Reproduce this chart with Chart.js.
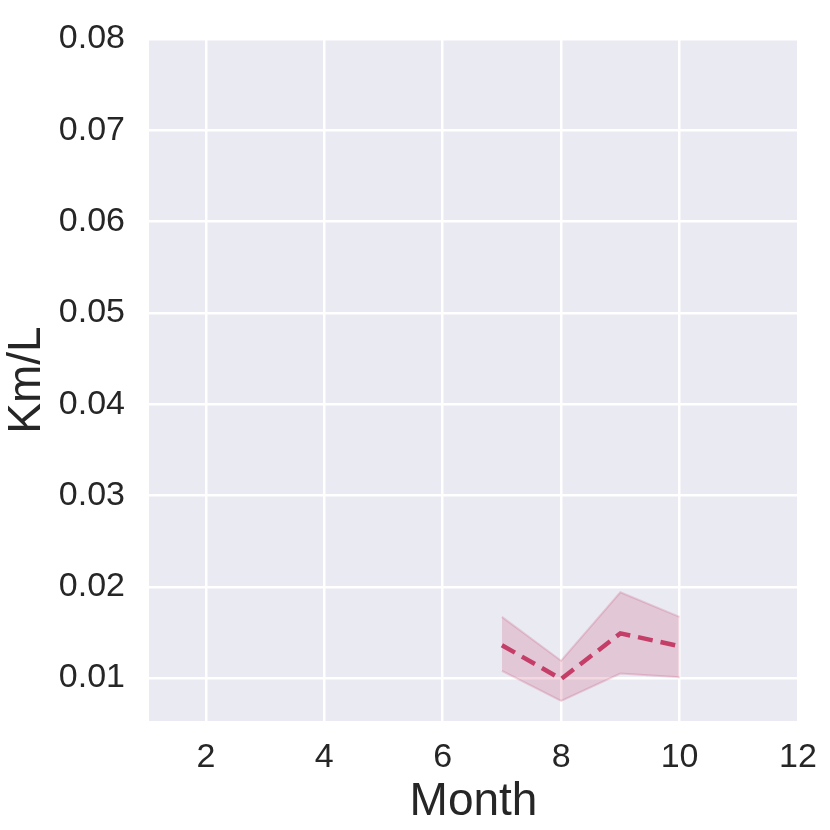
<!DOCTYPE html>
<html>
<head>
<meta charset="utf-8">
<script src="https://cdn.jsdelivr.net/npm/chart.js@4/dist/chart.umd.min.js"></script>
<style>
  html, body { margin: 0; padding: 0; background: #fff; }
  #wrap { width: 830px; height: 830px; }
</style>
</head>
<body>
<div id="wrap"><canvas id="chart" width="830" height="830"></canvas></div>
<script>
// data
const months   = [7, 8, 9, 10];
const kmPerL   = [0.0136, 0.0099, 0.0149, 0.0135];
const ciUpper  = [0.0167, 0.0119, 0.0194, 0.0167];
const ciLower  = [0.0108, 0.0075, 0.0105, 0.0101];
const xTicks   = [2, 4, 6, 8, 10, 12];
const yTicks   = [0.01, 0.02, 0.03, 0.04, 0.05, 0.06, 0.07, 0.08];

const lineColor = 'rgb(196, 62, 104)';
const pts = arr => months.map((m, i) => ({ x: m, y: arr[i] }));
const FONT = 'Liberation Sans, Arial, sans-serif';

// seaborn-ish plot background
const plotBg = {
  id: 'plotBg',
  beforeDraw(chart) {
    const { ctx, chartArea: a } = chart;
    ctx.save();
    ctx.fillStyle = '#EAEAF2';
    ctx.fillRect(a.left, a.top, a.right - a.left, a.bottom - a.top);
    ctx.restore();
  }
};

new Chart(document.getElementById('chart'), {
  type: 'line',
  data: {
    datasets: [
      {
        label: 'upper',
        data: pts(ciUpper),
        borderColor: 'rgba(196, 62, 104, 0.2)',
        borderWidth: 2,
        pointRadius: 0,
        fill: '+1',
        backgroundColor: 'rgba(196, 62, 104, 0.2)',
        order: 2
      },
      {
        label: 'lower',
        data: pts(ciLower),
        borderColor: 'rgba(196, 62, 104, 0.2)',
        borderWidth: 2,
        pointRadius: 0,
        fill: false,
        order: 2
      },
      {
        label: 'Km/L',
        data: pts(kmPerL),
        borderColor: lineColor,
        borderWidth: 4.5,
        borderDash: [15, 8],
        pointRadius: 0,
        fill: false,
        order: 1
      }
    ]
  },
  options: {
    responsive: false,
    animation: false,
    layout: { padding: { left: 0, right: 32, top: 39, bottom: 0 } },
    plugins: { legend: { display: false }, tooltip: { enabled: false } },
    scales: {
      x: {
        type: 'linear',
        min: 1.04,
        max: 12,
        afterBuildTicks: s => { s.ticks = xTicks.map(v => ({ value: v })); },
        afterFit: s => { s.height = 109; s.paddingLeft = 0; s.paddingRight = 0; },
        grid: { color: '#ffffff', lineWidth: 2.5, drawTicks: false },
        border: { display: false },
        ticks: {
          color: '#262626',
          padding: 16,
          maxRotation: 0,
          font: { family: FONT, size: 34 }
        },
        title: {
          display: true,
          text: 'Month',
          color: '#262626',
          padding: { top: 0, bottom: 0 },
          font: { family: FONT, size: 46 }
        }
      },
      y: {
        min: 0.0053,
        max: 0.08,
        afterBuildTicks: s => { s.ticks = yTicks.map(v => ({ value: v })); },
        afterFit: s => { s.width = 149; s.paddingTop = 0; s.paddingBottom = 0; },
        grid: { color: '#ffffff', lineWidth: 2.5, drawTicks: false },
        border: { display: false },
        ticks: {
          color: '#262626',
          padding: 24,
          callback: v => v.toFixed(2),
          font: { family: FONT, size: 34 }
        },
        title: {
          display: true,
          text: 'Km/L',
          color: '#262626',
          padding: { top: 0, bottom: 0 },
          font: { family: FONT, size: 46 }
        }
      }
    }
  },
  plugins: [plotBg]
});
</script>
</body>
</html>
